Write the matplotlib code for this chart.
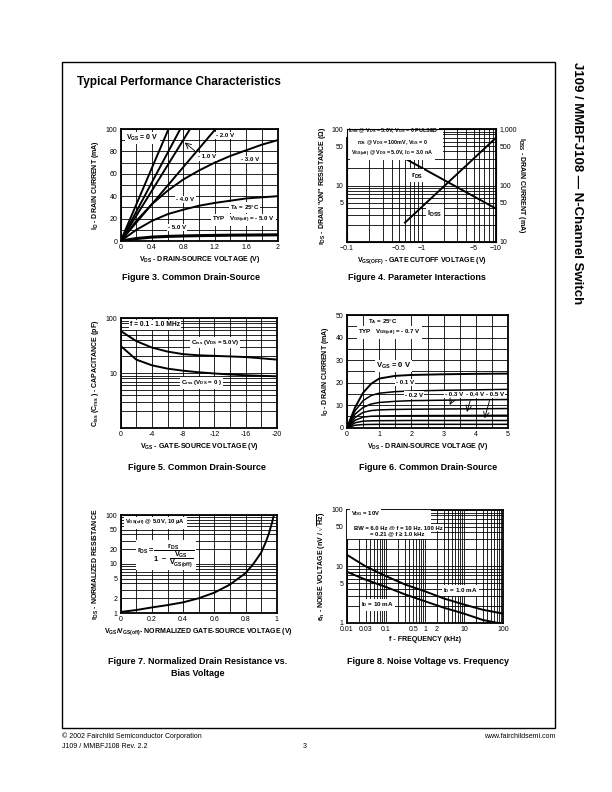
import matplotlib
matplotlib.use("Agg")
import matplotlib.pyplot as plt
import matplotlib.ticker as mticker
from matplotlib.patches import Rectangle

plt.rcParams['font.family'] = ['Liberation Sans', 'DejaVu Sans']
plt.rcParams['mathtext.fontset'] = 'custom'
plt.rcParams['mathtext.rm'] = 'Liberation Sans:bold'
plt.rcParams['mathtext.it'] = 'Liberation Sans:bold'
plt.rcParams['mathtext.bf'] = 'Liberation Sans:bold'
plt.rcParams['axes.unicode_minus'] = False

W, H = 612, 792

# ---- Figure 3: common drain-source, VGS(off) = -5 V
f3_steep_vds_at_100 = [0.61, 0.76, 0.885, 1.21]   # straight curves, VDS where ID hits 100 mA
f3_vds = [0, 0.2, 0.4, 0.6, 0.8, 1.0, 1.2, 1.4, 1.6, 1.8, 2.0]
f3_id_m3 = [0, 18, 33, 45, 55, 63, 70, 76, 81, 86, 90]
f3_id_m4 = [0, 10, 18, 24, 28, 31.5, 34, 36, 38, 39, 40]
f3_id_m5 = [0, 2.2, 3.5, 4.1, 4.5, 4.8, 5.0, 5.2, 5.3, 5.4, 5.5]

# ---- Figure 4: parameter interactions
f4_vgsoff = [0.6, 10]
f4_rds = [30, 3.9]
f4_idss = [22, 700]

# ---- Figure 5: capacitance
f5_vgs = [0, -2, -4, -6, -8, -10, -12, -14, -16, -18, -20]
f5_ciss = [58, 38, 29, 24.5, 22, 21, 20.5, 20, 19.5, 18.5, 17.5]
f5_crss = [31, 17.5, 13.8, 12, 11, 10.3, 9.8, 9.4, 9.1, 8.9, 8.7]

# ---- Figure 6: common drain-source, VGS(off) = -0.7 V
f6_vds = [0, 0.25, 0.5, 0.75, 1.0, 1.5, 2, 3, 4, 5]
f6_curves = [
    [0, 9, 15.5, 19.5, 21.8, 23, 23.4, 23.7, 23.9, 24],
    [0, 7.5, 12, 14.3, 15.3, 16, 16.3, 16.6, 16.8, 17],
    [0, 6, 9, 10.5, 11.2, 11.7, 12, 12.2, 12.4, 12.5],
    [0, 4.5, 6.8, 7.6, 7.9, 8.1, 8.2, 8.3, 8.4, 8.5],
    [0, 3.3, 4.7, 5.1, 5.2, 5.3, 5.35, 5.4, 5.45, 5.5],
    [0, 2.2, 2.9, 3.05, 3.1, 3.15, 3.2, 3.2, 3.2, 3.2],
    [0, 1.1, 1.4, 1.45, 1.5, 1.5, 1.5, 1.5, 1.5, 1.5],
]

# ---- Figure 7: normalized drain resistance
f7_vnorm = [0, 0.1, 0.2, 0.3, 0.4, 0.5, 0.6, 0.7, 0.8, 0.85, 0.9, 0.93, 0.95, 0.97, 0.982]
f7_rnorm = [1.05, 1.15, 1.3, 1.45, 1.65, 2.0, 2.6, 3.8, 6.5, 10, 17, 28, 42, 70, 100]

# ---- Figure 8: noise voltage
f8_freq = [0.01, 0.03, 0.1, 0.3, 1, 3, 10, 30, 100]
f8_en_1ma = [16, 10, 6.7, 4.8, 3.6, 2.7, 2.1, 1.7, 1.45]
f8_en_10ma = [8.0, 5.8, 4.3, 3.2, 2.4, 1.85, 1.45, 1.12, 0.95]

fig = plt.figure(figsize=(W / 100, H / 100), dpi=100)


def make_ax(x0, y0, x1, y1):
    return fig.add_axes([x0 / W, 1 - y1 / H, (x1 - x0) / W, (y1 - y0) / H])


def style(ax):
    ax.set_axisbelow(True)
    ax.grid(True, which='both', color='black', lw=0.6)
    ax.tick_params(which='both', length=0, labelsize=5, pad=2.5)
    for s in ax.spines.values():
        s.set_linewidth(1.3)


def label(ax, x, y, s, size=4.4, **kw):
    ax.text(x, y, s, fontsize=size, fontweight='bold', zorder=6,
            bbox=dict(fc='white', ec='none', pad=0.8), **kw)


def axlabels(ax, xl, yl, ypad=3):
    ax.set_xlabel(xl, fontsize=5, fontweight='bold', labelpad=2)
    ax.set_ylabel(yl, fontsize=5, fontweight='bold', labelpad=ypad)


def caption(x, y, s):
    fig.text(x / W, 1 - y / H, s, fontsize=6.5, fontweight='bold', ha='center', va='center')


# page frame and titles
fig.patches.append(Rectangle((62 / W, 1 - 728 / H), (555 - 62) / W, (728 - 62) / H,
                             transform=fig.transFigure, fill=False, lw=1, ec='black'))
fig.text(77 / W, 1 - 82 / H, 'Typical Performance Characteristics', fontsize=8.5,
         fontweight='bold', va='center')
fig.text(577 / W, 1 - 62 / H, 'J109 / MMBFJ108 — N-Channel Switch', fontsize=9.5,
         fontweight='bold', rotation=-90, ha='center', va='top')
fig.text(62 / W, 1 - 736 / H, '© 2002 Fairchild Semiconductor Corporation', fontsize=5, va='center')
fig.text(555 / W, 1 - 736 / H, 'www.fairchildsemi.com', fontsize=5, va='center', ha='right')
fig.text(62 / W, 1 - 747 / H, 'J109 / MMBFJ108 Rev. 2.2', fontsize=5, va='center')
fig.text(305 / W, 1 - 747 / H, '3', fontsize=5, va='center', ha='center')

# ---------------- Figure 3
ax = make_ax(120.7, 129, 277.5, 241)
for v in f3_steep_vds_at_100:
    ax.plot([0, v], [0, 100], color='black', lw=1.4)
ax.plot(f3_vds, f3_id_m3, color='black', lw=1.4)
ax.plot(f3_vds, f3_id_m4, color='black', lw=1.4)
ax.plot(f3_vds, f3_id_m5, color='black', lw=2.2)
ax.set_xlim(0, 2)
ax.set_ylim(0, 100)
ax.xaxis.set_major_locator(mticker.FixedLocator([0, 0.4, 0.8, 1.2, 1.6, 2]))
ax.xaxis.set_major_formatter(mticker.FixedFormatter(['0', '0.4', '0.8', '1.2', '1.6', '2']))
ax.xaxis.set_minor_locator(mticker.MultipleLocator(0.2))
ax.yaxis.set_major_locator(mticker.MultipleLocator(20))
ax.yaxis.set_minor_locator(mticker.MultipleLocator(10))
style(ax)
axlabels(ax, r'V$_{DS}$ - DRAIN-SOURCE VOLTAGE (V)', r'I$_{D}$ - DRAIN CURRENT (mA)')
label(ax, 0.07, 92, r'V$_{GS}$ = 0 V', size=5, va='center')
label(ax, 1.22, 94, '- 2.0 V', va='center')
label(ax, 0.98, 75, '- 1.0 V', va='center')
ax.annotate('', xy=(0.79, 89.5), xytext=(0.97, 79),
            arrowprops=dict(arrowstyle='->', lw=0.6, color='black'), zorder=7)
label(ax, 1.53, 73, '- 3.0 V', va='center')
label(ax, 0.71, 37, '- 4.0 V', va='center')
label(ax, 1.39, 30, r'T$_{A}$ = 25°C', va='center')
label(ax, 1.17, 18.5, r'TYP   V$_{GS(off)}$ = - 5.0 V', va='center')
label(ax, 0.6, 12, '- 5.0 V', va='center')
caption(191, 277, 'Figure 3. Common Drain-Source')

# ---------------- Figure 4
ax = make_ax(347, 129, 496, 242)
ax.plot(f4_vgsoff, f4_rds, color='black', lw=1.4)
ax.set_xscale('log')
ax.set_yscale('log')
ax.set_xlim(0.1, 10)
ax.set_ylim(1, 100)
ax.xaxis.set_major_locator(mticker.FixedLocator([0.1, 0.5, 1, 5, 10]))
ax.xaxis.set_major_formatter(mticker.FixedFormatter(['−0.1', '−0.5', '−1', '−5', '−10']))
ax.xaxis.set_minor_locator(mticker.LogLocator(subs=range(2, 10)))
ax.xaxis.set_minor_formatter(mticker.NullFormatter())
ax.yaxis.set_major_locator(mticker.FixedLocator([5, 10, 50, 100]))
ax.yaxis.set_major_formatter(mticker.FixedFormatter(['5', '10', '50', '100']))
ax.yaxis.set_minor_locator(mticker.LogLocator(subs=range(1, 10)))
ax.yaxis.set_minor_formatter(mticker.NullFormatter())
style(ax)
axlabels(ax, r'V$_{GS (OFF)}$ - GATE CUTOFF VOLTAGE (V)', r'r$_{DS}$ - DRAIN "ON" RESISTANCE (Ω)')
ax2 = ax.twinx()
ax2.plot(f4_vgsoff, f4_idss, color='black', lw=1.4)
ax2.set_yscale('log')
ax2.set_ylim(10, 1000)
ax2.yaxis.set_major_locator(mticker.FixedLocator([10, 50, 100, 500, 1000]))
ax2.yaxis.set_major_formatter(mticker.FixedFormatter(['10', '50', '100', '500', '1,000']))
ax2.yaxis.set_minor_locator(mticker.NullLocator())
ax2.tick_params(length=0, labelsize=5, pad=2.5)
ax2.set_ylabel(r'I$_{DSS}$ - DRAIN CURRENT (mA)', fontsize=5, fontweight='bold',
               rotation=-90, labelpad=7)
ax.add_patch(Rectangle((0.1, 30), 1.85, 70, fc='white', ec='none', zorder=3))
label(ax, 0.41, 92, r'I$_{DSS}$ @ V$_{DS}$ = 5.0V, V$_{GS}$ = 0 PULSED', size=3.9, ha='center', va='center')
label(ax, 0.41, 58, r'r$_{DS}$ @ V$_{DS}$ = 100mV, V$_{GS}$ = 0', size=3.9, ha='center', va='center')
label(ax, 0.41, 36, r'V$_{GS(off)}$ @ V$_{DS}$ = 5.0V, I$_{D}$ = 3.0 nA', size=3.9, ha='center', va='center')
label(ax, 0.72, 15, r'r$_{DS}$', size=5.5, va='center')
label(ax, 1.2, 3.2, r'I$_{DSS}$', size=5.5, va='center')
caption(417, 277, 'Figure 4. Parameter Interactions')

# ---------------- Figure 5
ax = make_ax(120.7, 318, 277, 428)
ax.plot(f5_vgs, f5_ciss, color='black', lw=1.4)
ax.plot(f5_vgs, f5_crss, color='black', lw=1.4)
ax.set_yscale('log')
ax.set_xlim(0, -20)
ax.set_ylim(1, 100)
ax.xaxis.set_major_locator(mticker.FixedLocator([0, -4, -8, -12, -16, -20]))
ax.xaxis.set_minor_locator(mticker.MultipleLocator(2))
ax.yaxis.set_major_locator(mticker.FixedLocator([10, 100]))
ax.yaxis.set_major_formatter(mticker.FixedFormatter(['10', '100']))
ax.yaxis.set_minor_locator(mticker.LogLocator(subs=range(1, 10)))
ax.yaxis.set_minor_formatter(mticker.NullFormatter())
style(ax)
axlabels(ax, r'V$_{GS}$ - GATE-SOURCE VOLTAGE (V)', r'C$_{iss}$ (C$_{rss}$ ) - CAPACITANCE (pF)')
label(ax, -1.2, 75, 'f = 0.1 - 1.0 MHz', size=4.8, va='center')
label(ax, -9.0, 36, r'C$_{iss}$ (V$_{DS}$ = 5.0V)', va='center')
label(ax, -7.7, 6.6, r'C$_{rss}$ (V$_{DS}$ = 0 )', va='center')
caption(197, 468, 'Figure 5. Common Drain-Source')

# ---------------- Figure 6
ax = make_ax(347, 315, 508, 427.7)
for i, c in enumerate(f6_curves):
    ax.plot(f6_vds, c, color='black', lw=1.4 if i == 0 else 1.1)
ax.set_xlim(0, 5)
ax.set_ylim(0, 50)
ax.xaxis.set_major_locator(mticker.MultipleLocator(1))
ax.xaxis.set_minor_locator(mticker.MultipleLocator(0.5))
ax.yaxis.set_major_locator(mticker.MultipleLocator(10))
ax.yaxis.set_minor_locator(mticker.MultipleLocator(5))
style(ax)
axlabels(ax, r'V$_{DS}$ - DRAIN-SOURCE VOLTAGE (V)', r'I$_{D}$ - DRAIN CURRENT (mA)')
label(ax, 0.65, 47.3, r'T$_{A}$ = 25°C', va='center')
label(ax, 0.34, 42.2, r'TYP   V$_{GS(off)}$ = - 0.7 V', va='center')
label(ax, 0.9, 27.3, r'V$_{GS}$ = 0 V', size=5.5, va='center')
label(ax, 1.53, 19.9, '- 0.1 V', va='center')
label(ax, 1.8, 14.5, '- 0.2 V', va='center')
label(ax, 3.05, 14.9, '- 0.3 V', va='center')
label(ax, 3.7, 14.9, '- 0.4 V', va='center')
label(ax, 4.32, 14.9, '- 0.5 V', va='center')
for (x0, x1, y1) in [(3.3, 3.15, 9.0), (3.85, 3.7, 5.8), (4.45, 4.25, 3.0)]:
    ax.annotate('', xy=(x1, y1), xytext=(x0, 13.3),
                arrowprops=dict(arrowstyle='->', lw=0.6, color='black'), zorder=7)
caption(428, 468, 'Figure 6. Common Drain-Source')

# ---------------- Figure 7
ax = make_ax(120.7, 515, 276.7, 613)
ax.plot(f7_vnorm, f7_rnorm, color='black', lw=1.4)
ax.set_yscale('log')
ax.set_xlim(0, 1)
ax.set_ylim(1, 100)
ax.xaxis.set_major_locator(mticker.FixedLocator([0, 0.2, 0.4, 0.6, 0.8, 1]))
ax.xaxis.set_major_formatter(mticker.FixedFormatter(['0', '0.2', '0.4', '0.6', '0.8', '1']))
ax.xaxis.set_minor_locator(mticker.MultipleLocator(0.1))
ax.yaxis.set_major_locator(mticker.FixedLocator([1, 2, 5, 10, 20, 50, 100]))
ax.yaxis.set_major_formatter(mticker.FixedFormatter(['1', '2', '5', '10', '20', '50', '100']))
ax.yaxis.set_minor_locator(mticker.LogLocator(subs=range(1, 10)))
ax.yaxis.set_minor_formatter(mticker.NullFormatter())
style(ax)
axlabels(ax, r'V$_{GS}$/V$_{GS(off)}$- NORMALIZED GATE-SOURCE VOLTAGE (V)',
         r'r$_{DS}$ - NORMALIZED RESISTANCE')
label(ax, 0.03, 68, r'V$_{GS(off)}$ @ 5.0V, 10 µA', size=4.2, va='center')
label(ax, 0.29, 15, r'$r_{DS} = \dfrac{r_{DS}}{1\ -\ \dfrac{V_{GS}}{V_{GS(off)}}}$',
      size=5.2, ha='center', va='center')
caption(198, 662, 'Figure 7. Normalized Drain Resistance vs.')
caption(198, 674, 'Bias Voltage')

# ---------------- Figure 8
ax = make_ax(347, 510, 503, 622.7)
ax.plot(f8_freq, f8_en_1ma, color='black', lw=1.4)
ax.plot(f8_freq, f8_en_10ma, color='black', lw=1.4)
ax.set_xscale('log')
ax.set_yscale('log')
ax.set_xlim(0.01, 100)
ax.set_ylim(1, 100)
ax.xaxis.set_major_locator(mticker.FixedLocator([0.01, 0.03, 0.1, 0.5, 1, 2, 10, 100]))
ax.xaxis.set_major_formatter(mticker.FixedFormatter(['0.01', '0.03', '0.1', '0.5', '1', '2', '10', '100']))
ax.xaxis.set_minor_locator(mticker.LogLocator(subs=range(1, 10)))
ax.xaxis.set_minor_formatter(mticker.NullFormatter())
ax.yaxis.set_major_locator(mticker.FixedLocator([1, 5, 10, 50, 100]))
ax.yaxis.set_major_formatter(mticker.FixedFormatter(['1', '5', '10', '50', '100']))
ax.yaxis.set_minor_locator(mticker.LogLocator(subs=range(1, 10)))
ax.yaxis.set_minor_formatter(mticker.NullFormatter())
style(ax)
axlabels(ax, 'f - FREQUENCY (kHz)', r'e$_{n}$ - NOISE VOLTAGE (nV / $\sqrt{Hz}$)')
ax.add_patch(Rectangle((0.01, 30), 1.4, 70, fc='white', ec='none', zorder=3))
label(ax, 0.0125, 87, r'V$_{DG}$ = 10V', size=4.2, va='center')
label(ax, 0.0155, 49, 'BW = 6.0 Hz @ f = 10 Hz, 100 Hz', size=4.2, va='center')
label(ax, 0.038, 37.5, '= 0.21 @ f ≥ 1.0 kHz', size=4.2, va='center')
label(ax, 2.9, 3.7, r'I$_{D}$ = 1.0 mA', size=4.5, va='center')
label(ax, 0.023, 2.06, r'I$_{D}$ = 10 mA', size=4.5, va='center')
caption(428, 662, 'Figure 8. Noise Voltage vs. Frequency')

fig.savefig('out.png', dpi=100)
